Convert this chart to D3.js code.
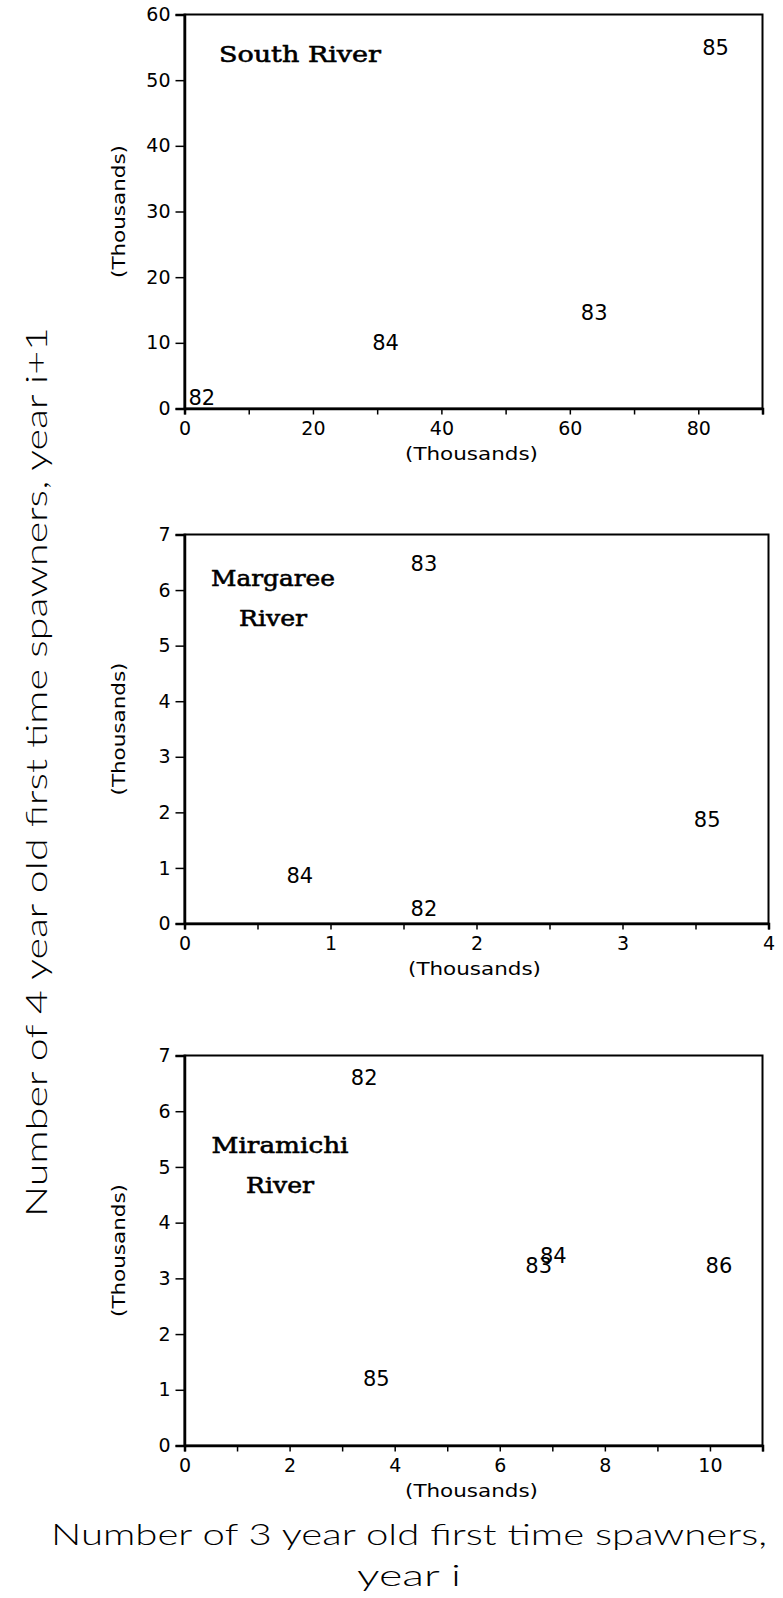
<!DOCTYPE html>
<meta charset="utf-8">
<style>
  body { margin: 0; background: #fff; }
  svg text { fill: #000; }
</style>
<svg width="783" height="1598"></svg>
<script src="https://cdn.jsdelivr.net/npm/d3@7"></script>
<script>

// South River
var southYears = ["82", "83", "84", "85"];
var southX = [2.7, 63.8, 31.3, 82.7];
var southY = [1.7, 14.6, 10.0, 55.0];

// Margaree River
var margYears = ["82", "83", "84", "85"];
var margX = [1.64, 1.64, 0.79, 3.58];
var margY = [0.27, 6.48, 0.87, 1.88];

// Miramichi River
var miraYears = ["82", "83", "84", "85", "86"];
var miraX = [3.42, 6.74, 7.02, 3.65, 10.17];
var miraY = [6.61, 3.23, 3.41, 1.20, 3.24];

var southXTicks = [0, 10, 20, 30, 40, 50, 60, 70, 80, 90];
var southXLabels = [0, 20, 40, 60, 80];
var southYTicks = [0, 10, 20, 30, 40, 50, 60];

var margXTicks = [0, 0.5, 1, 1.5, 2, 2.5, 3, 3.5, 4];
var margXLabels = [0, 1, 2, 3, 4];
var margYTicks = [0, 1, 2, 3, 4, 5, 6, 7];

var miraXTicks = [0, 1, 2, 3, 4, 5, 6, 7, 8, 9, 10, 11];
var miraXLabels = [0, 2, 4, 6, 8, 10];
var miraYTicks = [0, 1, 2, 3, 4, 5, 6, 7];

var sansFont = "'DejaVu Sans', sans-serif";
var lightFont = "Lato, 'DejaVu Sans', sans-serif";
var serifFont = "'DejaVu Serif', serif";

var svg = d3.select("svg");

var panels = [
  {title: ["South River"], titleX: 300, titleY: 62, titleW: [162],
   years: southYears, xs: southX, ys: southY,
   xDomain: [0, 90], yDomain: [0, 60],
   xTicks: southXTicks, xLabels: southXLabels, yTicks: southYTicks,
   left: 184.5, right: 762.5, top: 14.5, bottom: 408.5},
  {title: ["Margaree", "River"], titleX: 273, titleY: 586, titleW: [124, 68],
   years: margYears, xs: margX, ys: margY,
   xDomain: [0, 4], yDomain: [0, 7],
   xTicks: margXTicks, xLabels: margXLabels, yTicks: margYTicks,
   left: 184.5, right: 768.5, top: 534.5, bottom: 923.5},
  {title: ["Miramichi", "River"], titleX: 280, titleY: 1153, titleW: [137, 68],
   years: miraYears, xs: miraX, ys: miraY,
   xDomain: [0, 11], yDomain: [0, 7],
   xTicks: miraXTicks, xLabels: miraXLabels, yTicks: miraYTicks,
   left: 184.5, right: 762.5, top: 1055.5, bottom: 1445.5}
];

panels.forEach(function(p) {
  var x = d3.scaleLinear().domain(p.xDomain).range([p.left, p.right]);
  var y = d3.scaleLinear().domain(p.yDomain).range([p.bottom, p.top]);
  var g = svg.append("g");

  // frame
  g.append("rect")
    .attr("x", p.left).attr("y", p.top)
    .attr("width", p.right - p.left).attr("height", p.bottom - p.top)
    .attr("fill", "none").attr("stroke", "#000").attr("stroke-width", 2);

  var xAxis = d3.axisBottom(x)
    .tickValues(p.xTicks)
    .tickSize(6)
    .tickPadding(7)
    .tickFormat(function(d) { return p.xLabels.indexOf(d) >= 0 ? d : ""; });
  var gx = g.append("g").attr("transform", "translate(0," + p.bottom + ")").call(xAxis);

  var yAxis = d3.axisLeft(y)
    .tickValues(p.yTicks)
    .tickSize(9)
    .tickPadding(5)
    .tickFormat(d3.format("d"));
  var gy = g.append("g").attr("transform", "translate(" + p.left + ",0)").call(yAxis);

  [gx, gy].forEach(function(a) {
    a.attr("font-size", null).attr("font-family", null);
    a.select(".domain").attr("stroke-width", 2.5);
    a.selectAll(".tick line").attr("stroke-width", 1.5);
    a.selectAll(".tick text")
      .style("font-family", sansFont).style("font-size", "19px").attr("fill", "#000");
  });

  // axis unit labels
  g.append("text")
    .attr("x", (p.left + p.right) / 2 - 2)
    .attr("y", p.bottom + 51)
    .attr("text-anchor", "middle")
    .style("font-family", sansFont).style("font-size", "17px")
    .attr("textLength", 133).attr("lengthAdjust", "spacingAndGlyphs")
    .text("(Thousands)");

  g.append("text")
    .attr("transform", "translate(" + 125 + "," + ((p.top + p.bottom) / 2) + ") rotate(-90)")
    .attr("text-anchor", "middle")
    .style("font-family", sansFont).style("font-size", "17px")
    .attr("textLength", 133).attr("lengthAdjust", "spacingAndGlyphs")
    .text("(Thousands)");

  // river name
  p.title.forEach(function(t, i) {
    g.append("text")
      .attr("x", p.titleX).attr("y", p.titleY + i * 40)
      .attr("text-anchor", "middle")
      .style("font-family", serifFont).style("font-size", "23px")
      .attr("stroke", "#000").attr("stroke-width", 0.6)
      .attr("textLength", p.titleW[i]).attr("lengthAdjust", "spacingAndGlyphs")
      .text(t);
  });

  // year labels as the points
  var pts = p.years.map(function(yr, i) { return {year: yr, x: p.xs[i], y: p.ys[i]}; });
  g.selectAll(".pt")
    .data(pts)
    .enter().append("text")
    .attr("class", "pt")
    .attr("x", function(d) { return x(d.x); })
    .attr("y", function(d) { return y(d.y); })
    .attr("dy", "0.36em")
    .attr("text-anchor", "middle")
    .style("font-family", sansFont).style("font-size", "21px")
    .text(function(d) { return d.year; });
});

// overall axis titles
svg.append("text")
  .attr("transform", "translate(47,772) rotate(-90)")
  .attr("text-anchor", "middle")
  .style("font-family", lightFont).style("font-size", "30px").style("font-weight", 300)
  .attr("textLength", 890).attr("lengthAdjust", "spacingAndGlyphs")
  .text("Number of 4 year old first time spawners, year i+1");

svg.append("text")
  .attr("x", 409).attr("y", 1545)
  .attr("text-anchor", "middle")
  .style("font-family", lightFont).style("font-size", "30px").style("font-weight", 300)
  .attr("textLength", 716).attr("lengthAdjust", "spacingAndGlyphs")
  .text("Number of 3 year old first time spawners,");

svg.append("text")
  .attr("x", 409).attr("y", 1586)
  .attr("text-anchor", "middle")
  .style("font-family", lightFont).style("font-size", "30px").style("font-weight", 300)
  .attr("textLength", 104).attr("lengthAdjust", "spacingAndGlyphs")
  .text("year i");

</script>
